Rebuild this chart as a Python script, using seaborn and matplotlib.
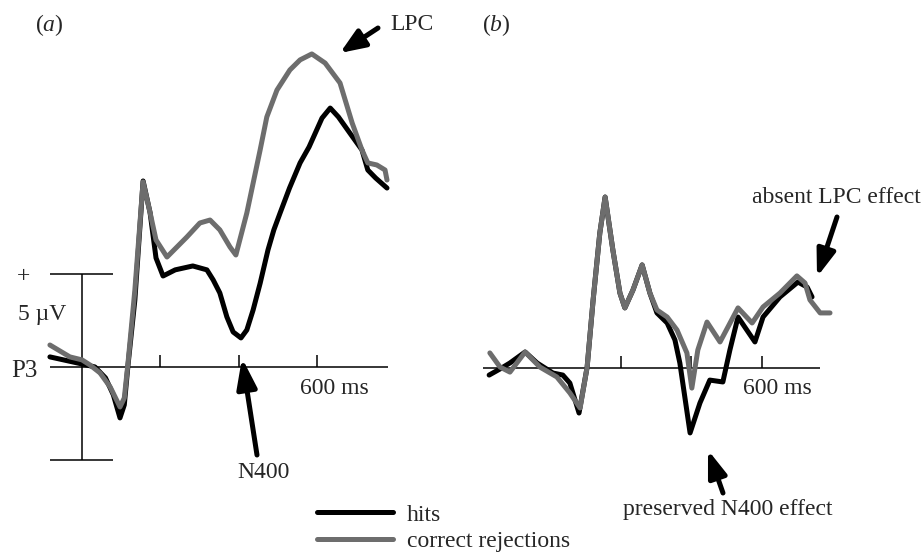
import matplotlib

matplotlib.use("Agg")

import matplotlib.pyplot as plt
import pandas as pd
import seaborn as sns


# panel (a): time in ms after onset, amplitude in microvolts (positive up)
A_HITS_MS = [-82, 0, 33, 60, 80, 97, 108, 117, 135, 156, 174, 189, 207, 238, 283, 319, 335, 352, 370,
             386, 406, 421, 437, 455, 475, 490, 506, 530, 557, 580, 613, 634, 655, 684, 715, 730, 750, 779]
A_HITS_UV = [0.54, 0.16, 0.0, -0.59, -1.5, -2.74, -2.04, 0.0, 3.6, 10.0, 8.28, 5.86, 4.89, 5.22, 5.43,
             5.22, 4.68, 3.98, 2.69, 1.88, 1.56, 1.99, 3.06, 4.5, 6.29, 7.37, 8.28, 9.62, 10.97, 11.83,
             13.38, 13.92, 13.44, 12.58, 11.67, 10.59, 10.16, 9.62]
A_CR_MS = [-82, -31, 0, 20, 46, 72, 97, 108, 117, 135, 156, 174, 189, 217, 268, 301, 327, 352, 378, 393,
           421, 455, 472, 498, 531, 557, 587, 621, 659, 690, 715, 730, 753, 774, 779]
A_CR_UV = [1.18, 0.54, 0.38, 0.11, -0.32, -1.08, -2.15, -1.67, 0.11, 4.14, 9.95, 8.28, 6.83, 5.91, 6.99,
           7.74, 7.9, 7.37, 6.45, 6.02, 8.28, 11.67, 13.44, 14.89, 15.97, 16.51, 16.83, 16.34, 15.27, 13.12,
           11.67, 10.97, 10.86, 10.59, 10.05]

# panel (b)
B_HITS_MS = [-174, -143, -115, -72, -38, 7, 35, 55, 81, 104, 121, 140, 155, 177, 197, 211, 234, 260, 282,
             302, 331, 353, 367, 396, 424, 452, 489, 509, 532, 557, 580, 603, 651, 702, 728, 742]
B_HITS_UV = [-0.38, -0.05, 0.27, 0.86, 0.27, -0.27, -0.38, -0.81, -2.42, 0.05, 3.66, 7.26, 9.19, 6.34,
             4.03, 3.23, 4.19, 5.54, 4.03, 2.96, 2.42, 1.51, 0.27, -3.49, -1.88, -0.65, -0.75, 0.97, 2.74,
             2.04, 1.4, 2.74, 3.82, 4.62, 4.35, 3.82]
B_CR_MS = [-172, -143, -115, -72, -30, 18, 55, 84, 104, 121, 140, 155, 177, 197, 211, 234, 260, 282, 302,
           331, 359, 387, 401, 418, 444, 481, 532, 572, 603, 651, 699, 722, 736, 765, 793]
B_CR_UV = [0.81, 0.05, -0.22, 0.86, 0.05, -0.48, -1.34, -2.15, 0.05, 3.66, 7.26, 9.19, 6.34, 4.03, 3.23,
           4.19, 5.54, 4.03, 3.12, 2.74, 2.04, 0.81, -1.08, 0.97, 2.47, 1.4, 3.23, 2.42, 3.28, 4.03, 4.95,
           4.57, 3.66, 2.96, 2.96]

CONDITIONS = ["hits", "correct rejections"]
COLORS = {"hits": "#000000", "correct rejections": "#6d6d6d"}
TICKS_MS = [200, 400, 600]
SCALE_UV = 5

W, H = 924, 560


def fx(px):
    return px / W


def fy(py):
    return 1 - py / H


def make_frame(hits_ms, hits_uv, cr_ms, cr_uv):
    return pd.concat([
        pd.DataFrame({"time": hits_ms, "uv": hits_uv, "condition": "hits"}),
        pd.DataFrame({"time": cr_ms, "uv": cr_uv, "condition": "correct rejections"}),
    ], ignore_index=True)


def draw_waves(ax, df):
    sns.lineplot(data=df, x="time", y="uv", hue="condition", hue_order=CONDITIONS, palette=COLORS,
                 estimator=None, sort=False, linewidth=3.6, legend=False, ax=ax,
                 solid_joinstyle="round", solid_capstyle="round")
    ax.axis("off")


def arrow(fig, tail, tip, head_length=0.75, head_width=0.3):
    fig.add_artist(matplotlib.patches.FancyArrowPatch(
        (fx(tail[0]), fy(tail[1])), (fx(tip[0]), fy(tip[1])), transform=fig.transFigure,
        arrowstyle=f"-|>,head_length={head_length},head_width={head_width}",
        mutation_scale=20, lw=3.6, color="black", shrinkA=0, shrinkB=0))


sns.set_theme(style="white")
plt.rcParams["font.family"] = ["Liberation Serif", "DejaVu Serif"]
plt.rcParams["mathtext.fontset"] = "custom"
plt.rcParams["mathtext.rm"] = "Liberation Serif"
plt.rcParams["mathtext.it"] = "Liberation Serif:italic"

fig = plt.figure(figsize=(W / 100, H / 100), dpi=100)
ax_a = fig.add_axes([0, 0, 0.5, 1])
ax_b = fig.add_axes([0.5, 0, 0.5, 1])

draw_waves(ax_a, make_frame(A_HITS_MS, A_HITS_UV, A_CR_MS, A_CR_UV))
draw_waves(ax_b, make_frame(B_HITS_MS, B_HITS_UV, B_CR_MS, B_CR_UV))
ax_a.set(xlim=(-209.5, 970.6), ylim=(-10.38, 19.73))
ax_b.set(xlim=(-251, 1059.6), ylim=(-10.32, 19.78))

axis_kw = dict(color="black", lw=1.1, zorder=1)
# time axes with 200 ms ticks
ax_a.hlines(0, -82, 782, **axis_kw)
ax_a.vlines(TICKS_MS, 0, 0.65, **axis_kw)
ax_b.hlines(0, -191, 765, **axis_kw)
ax_b.vlines(TICKS_MS, 0, 0.65, **axis_kw)
# voltage calibration bar
ax_a.vlines(0, -SCALE_UV, SCALE_UV, **axis_kw)
ax_a.hlines([-SCALE_UV, SCALE_UV], -82, 79, **axis_kw)

fs = 17
fig.text(fx(35), fy(31), r"($\mathit{a}$)", fontsize=fs, va="baseline")
fig.text(fx(482), fy(31), r"($\mathit{b}$)", fontsize=fs, va="baseline")
fig.text(fx(390), fy(30), "LPC", fontsize=fs, va="baseline")
fig.text(fx(23), fy(282), "+", fontsize=fs, ha="center", va="baseline")
fig.text(fx(18), fy(320), "5 µV", fontsize=fs, va="baseline")
fig.text(fx(11), fy(377), "P3", fontsize=18, va="baseline")
fig.text(fx(300), fy(394), "600 ms", fontsize=fs, va="baseline")
fig.text(fx(743), fy(394), "600 ms", fontsize=fs, va="baseline")
fig.text(fx(264), fy(478), "N400", fontsize=fs, ha="center", va="baseline")
fig.text(fx(752), fy(203), "absent LPC effect", fontsize=fs, va="baseline")
fig.text(fx(623), fy(515), "preserved N400 effect", fontsize=fs, va="baseline")

arrow(fig, (378, 28), (340, 53), 0.75, 0.3)
arrow(fig, (257, 455), (242, 358), 0.9, 0.3)
arrow(fig, (837, 217), (817, 277), 0.8, 0.28)
arrow(fig, (723, 493), (708, 450), 0.8, 0.28)

fig.legend(ax_a.get_lines()[:2], CONDITIONS, loc="upper left", bbox_to_anchor=(fx(317), fy(504)),
           frameon=False, fontsize=fs, handlelength=3.2, handletextpad=0.62, labelspacing=0.22,
           borderpad=0, borderaxespad=0)

fig.savefig("out.png", dpi=100)
